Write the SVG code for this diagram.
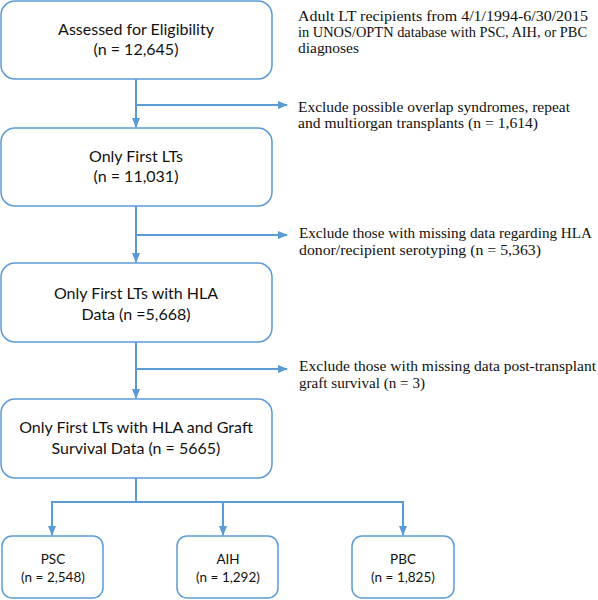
<svg xmlns="http://www.w3.org/2000/svg" width="598" height="600" viewBox="0 0 598 600">
<defs>
<style>
.box{fill:#fff;stroke:#5B9BD5;stroke-width:1.5}
.bt{font-family:Lato,"Liberation Sans",sans-serif;font-size:16px;fill:#111;text-anchor:middle}
.st{font-family:Lato,"Liberation Sans",sans-serif;font-size:13.5px;fill:#111;text-anchor:middle}
.nt{font-family:"Liberation Serif",serif;font-size:15px;fill:#111}
.ln{fill:none;stroke:#5B9BD5;stroke-width:2}
</style>
<marker id="ah" markerWidth="10" markerHeight="8" refX="9" refY="4" orient="auto" markerUnits="userSpaceOnUse">
<path d="M0,0 L10,4 L0,8 Z" fill="#5B9BD5"/>
</marker>
</defs>
<g id="connectors">
<path class="ln" d="M136,79 V127" marker-end="url(#ah)"/>
<path class="ln" d="M136,105 H287" marker-end="url(#ah)"/>
<path class="ln" d="M136,206 V262" marker-end="url(#ah)"/>
<path class="ln" d="M136,235 H287" marker-end="url(#ah)"/>
<path class="ln" d="M136,342 V398" marker-end="url(#ah)"/>
<path class="ln" d="M136,369 H287" marker-end="url(#ah)"/>
<path class="ln" d="M136,478 V502"/>
<path class="ln" d="M52,502 H403"/>
<path class="ln" d="M52,501 V535" marker-end="url(#ah)"/>
<path class="ln" d="M223,501 V535" marker-end="url(#ah)"/>
<path class="ln" d="M403,501 V535" marker-end="url(#ah)"/>
</g>
<g id="n1"><rect class="box" x="1" y="1" width="271" height="78" rx="14"/>
<text class="bt" x="136" y="35">Assessed for Eligibility</text><text class="bt" x="136" y="55">(n = 12,645)</text></g>
<g id="n2"><rect class="box" x="1" y="128" width="271" height="78" rx="14"/>
<text class="bt" x="136" y="162">Only First LTs</text><text class="bt" x="136" y="182">(n = 11,031)</text></g>
<g id="n3"><rect class="box" x="1" y="263" width="271" height="79" rx="14"/>
<text class="bt" x="136" y="299">Only First LTs with HLA</text><text class="bt" x="136" y="320">Data (n =5,668)</text></g>
<g id="n4"><rect class="box" x="1" y="399" width="271" height="79" rx="14"/>
<text class="bt" x="136" y="433">Only First LTs with HLA and Graft</text><text class="bt" x="136" y="454">Survival Data (n = 5665)</text></g>
<g id="n5"><rect class="box" x="2" y="536" width="101" height="62" rx="10"/>
<text class="st" x="53" y="564">PSC</text><text class="st" x="53" y="582">(n = 2,548)</text></g>
<g id="n6"><rect class="box" x="177" y="536" width="101" height="62" rx="10"/>
<text class="st" x="228" y="564">AIH</text><text class="st" x="228" y="582">(n = 1,292)</text></g>
<g id="n7"><rect class="box" x="352" y="536" width="102" height="62" rx="10"/>
<text class="st" x="403" y="564">PBC</text><text class="st" x="403" y="582">(n = 1,825)</text></g>
<g id="notes">
<text class="nt" x="298" y="21" textLength="290" lengthAdjust="spacingAndGlyphs">Adult LT recipients from 4/1/1994-6/30/2015</text>
<text class="nt" x="298" y="37" textLength="289" lengthAdjust="spacingAndGlyphs">in UNOS/OPTN database with PSC, AIH, or PBC</text>
<text class="nt" x="298" y="53" textLength="61" lengthAdjust="spacingAndGlyphs">diagnoses</text>
<text class="nt" x="298" y="112" textLength="272" lengthAdjust="spacingAndGlyphs">Exclude possible overlap syndromes, repeat</text>
<text class="nt" x="298" y="128" textLength="240" lengthAdjust="spacingAndGlyphs">and multiorgan transplants (n = 1,614)</text>
<text class="nt" x="299" y="238" textLength="293" lengthAdjust="spacingAndGlyphs">Exclude those with missing data regarding HLA</text>
<text class="nt" x="299" y="255" textLength="242" lengthAdjust="spacingAndGlyphs">donor/recipient serotyping (n = 5,363)</text>
<text class="nt" x="299" y="371" textLength="297" lengthAdjust="spacingAndGlyphs">Exclude those with missing data post-transplant</text>
<text class="nt" x="299" y="388" textLength="126" lengthAdjust="spacingAndGlyphs">graft survival (n = 3)</text>
</g>
</svg>
